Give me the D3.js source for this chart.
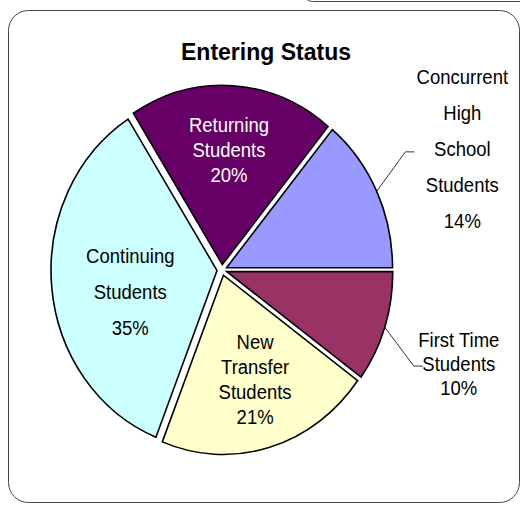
<!DOCTYPE html>
<html>
<head>
<meta charset="utf-8">
<script src="https://cdn.jsdelivr.net/npm/d3@7"></script>
<style>
  body { margin: 0; background: #fff; }
  svg { display: block; font-family: "Liberation Sans", Arial, sans-serif; }
</style>
</head>
<body>
<div id="chart"></div>
<script>
// data, in the order excel draws it (clockwise)
var categories = ["Returning Students", "Concurrent High School Students", "First Time Students", "New Transfer Students", "Continuing Students"];
var values = [20, 14, 10, 21, 35];
var colors = ["#660066", "#9999FF", "#993366", "#FFFFCC", "#CCFFFF"];
var labelWords = [["Returning", "Students"], ["Concurrent", "High", "School", "Students"], ["First Time", "Students"], ["New", "Transfer", "Students"], ["Continuing", "Students"]];

// layout of labels (radius as fraction of pie radius, nudges, line spacing)
var labelLayout = [
  {r: 0.67, dx: 0, dy: 0, lh: 25, fill: "#fff"},
  {r: 1.6, dx: 0, dy: 2, lh: 36, fill: "#000", leader: -48},
  {r: 1.5, dx: 0, dy: 11, lh: 24, fill: "#000", leader: -36},
  {r: 0.65, dx: 3, dy: -2, lh: 25, fill: "#000"},
  {r: 0.555, dx: 0, dy: 13, lh: 36, fill: "#000"}
];

var W = 520, H = 506;
var svg = d3.select("#chart").append("svg")
    .attr("width", W)
    .attr("height", H);

// frames
svg.append("rect")
    .attr("x", 302.5).attr("y", -40)
    .attr("width", 240).attr("height", 41.5)
    .attr("rx", 10)
    .attr("fill", "none").attr("stroke", "#444");
svg.append("rect")
    .attr("x", 8.5).attr("y", 10.5)
    .attr("width", 511).attr("height", 492)
    .attr("rx", 20)
    .attr("fill", "#fff").attr("stroke", "#444");

svg.append("text")
    .attr("x", 266).attr("y", 60)
    .attr("text-anchor", "middle")
    .attr("font-size", 23)
    .attr("font-weight", "bold")
    .text("Entering Status");

var cx = 222, cy = 270, R = 166, sy = 1.08, explode = 5;

var pie = d3.pie().sort(null).value(function(d) { return d; })
    .startAngle(-32.4 * Math.PI / 180)
    .endAngle((360 - 32.4) * Math.PI / 180);
var arcs = pie(values);
var arc = d3.arc().innerRadius(0).outerRadius(R);

function polar(a, r) {
  return [Math.sin(a) * r, -Math.cos(a) * r];
}

var g = svg.append("g")
    .attr("transform", "translate(" + cx + "," + cy + ") scale(1," + sy + ")");

g.selectAll("path.slice")
    .data(arcs)
  .enter().append("path")
    .attr("class", "slice")
    .attr("transform", function(d) {
      var p = polar((d.startAngle + d.endAngle) / 2, explode);
      return "translate(" + p[0] + "," + p[1] + ")";
    })
    .attr("d", arc)
    .attr("fill", function(d, i) { return colors[i]; })
    .attr("stroke", "#000")
    .attr("stroke-width", 1.6)
    .attr("vector-effect", "non-scaling-stroke");

// labels
var fmt = function(v) { return v + "%"; };

arcs.forEach(function(d, i) {
  var L = labelLayout[i];
  var mid = (d.startAngle + d.endAngle) / 2;
  var p = polar(mid, R * L.r);
  var x = cx + p[0] + L.dx, y = cy + p[1] * sy + L.dy;
  var lines = labelWords[i].concat([fmt(values[i])]);
  var n = lines.length;

  if (L.leader) {
    var s = polar(mid, R + explode);
    var ly = y + 2;
    var ex = x + L.leader;
    svg.append("polyline")
        .attr("points", [[cx + s[0], cy + s[1] * sy], [ex - 9, ly], [ex, ly]].join(" "))
        .attr("fill", "none")
        .attr("stroke", "#000")
        .attr("stroke-width", 0.8);
  }

  var t = svg.append("text")
      .attr("transform", "translate(" + x + "," + y + ") scale(1,1.1)")
      .attr("text-anchor", "middle")
      .attr("font-size", 18.5)
      .attr("fill", L.fill);
  t.selectAll("tspan")
      .data(lines)
    .enter().append("tspan")
      .attr("x", 0)
      .attr("y", function(l, j) { return ((j - (n - 1) / 2) * L.lh + 6.5) / 1.1; })
      .text(function(l) { return l; });
});
</script>
</body>
</html>
